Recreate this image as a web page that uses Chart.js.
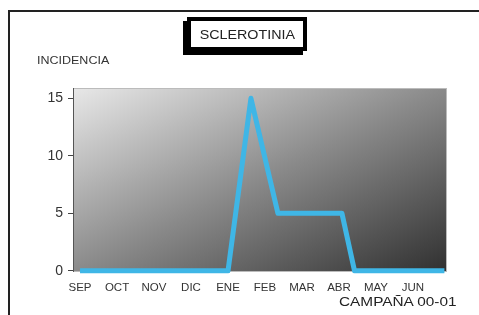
<!DOCTYPE html>
<html>
<head>
<meta charset="utf-8">
<script src="https://cdn.jsdelivr.net/npm/chart.js@4"></script>
<style>
  html, body { margin:0; padding:0; background:#fff; }
  #wrap { position:relative; width:479px; height:315px; overflow:hidden; font-family:"Liberation Sans", Arial, sans-serif; }
  #frame { position:absolute; left:8px; top:10px; width:600px; height:400px; border-left:2px solid #222; border-top:2px solid #222; }
  #title { position:absolute; left:187px; top:17px; width:112px; height:26px; border:4px solid #000; box-shadow:-4px 4px 0 #000; background:#fff;
           color:#222; text-align:center; line-height:26px; }
  #title span { display:inline-block; font-size:13px; transform:scaleX(1.1); }
  #ylab { position:absolute; left:37px; top:55px; font-size:10px; color:#333; transform:scaleX(1.25); transform-origin:0 0; white-space:nowrap; }
  #camp { position:absolute; left:339px; top:295px; font-size:12px; color:#222; transform:scaleX(1.28); transform-origin:0 0; white-space:nowrap; }
  canvas { position:absolute; left:0; top:0; }
</style>
</head>
<body>
<div id="wrap">
  <div id="frame"></div>
  <canvas id="c" width="479" height="315"></canvas>
  <div id="title"><span>SCLEROTINIA</span></div>
  <div id="ylab">INCIDENCIA</div>
  <div id="camp">CAMPAÑA 00-01</div>
</div>
<script>
// Month categories (x position = month index, SEP = 0)
const months = ["SEP","OCT","NOV","DIC","ENE","FEB","MAR","ABR","MAY","JUN"];
// Series: position in months since start of SEP, incidence value
const monthPos  = [0, 4.0, 4.62, 5.35, 7.08, 7.42, 9.85];
const incidence = [0, 0,   15,   5,    5,    0,    0];
const yTicks = [0, 5, 10, 15];

const points = monthPos.map((x, i) => ({ x: x, y: incidence[i] }));

const bgPlugin = {
  id: 'bg',
  beforeDatasetsDraw(chart) {
    const { ctx, chartArea: a } = chart;
    const w = a.right - a.left, h = a.bottom - a.top;
    ctx.save();
    ctx.translate(a.left, a.top);
    ctx.scale(w, h);
    const g = ctx.createLinearGradient(0, 0, 1, 1);
    g.addColorStop(0, '#e8e8e8');
    g.addColorStop(0.5, '#8a8a8a');
    g.addColorStop(1, '#303030');
    ctx.fillStyle = g;
    ctx.fillRect(0, 0, 1, 1);
    ctx.restore();
    ctx.save();
    ctx.strokeStyle = '#bbb';
    ctx.lineWidth = 1;
    ctx.strokeRect(a.left + 0.5, a.top + 0.5, w - 1, h - 1);
    ctx.strokeStyle = '#555';
    ctx.beginPath();
    ctx.moveTo(a.left + 0.5, a.top);
    ctx.lineTo(a.left + 0.5, a.bottom);
    ctx.stroke();
    ctx.restore();
  }
};

new Chart(document.getElementById('c'), {
  type: 'line',
  data: {
    datasets: [{
      data: points,
      borderColor: '#3fb6e6',
      borderWidth: 5,
      pointRadius: 0,
      tension: 0,
      fill: false,
      clip: false,
      borderJoinStyle: 'round',
      borderCapStyle: 'butt'
    }]
  },
  options: {
    responsive: false,
    animation: false,
    events: [],
    layout: { padding: { left: 0, top: 88, right: 32, bottom: 0 } },
    plugins: { legend: { display: false }, tooltip: { enabled: false }, title: { display: false } },
    scales: {
      x: {
        type: 'linear',
        min: -0.19,
        max: 9.92,
        border: { display: false },
        grid: { display: false, drawTicks: false },
        afterBuildTicks(s) { s.ticks = months.map((m, i) => ({ value: i })); },
        afterFit(s) { s.height = 43; },
        ticks: {
          autoSkip: false,
          maxRotation: 0,
          padding: 9,
          color: '#333',
          font: { family: 'Liberation Sans', size: 11.5 },
          callback: (v) => months[v] ?? ''
        }
      },
      y: {
        type: 'linear',
        min: -0.1,
        max: 15.9,
        border: { display: false },
        grid: { drawOnChartArea: false, drawTicks: true, tickLength: 5, color: '#444' },
        afterBuildTicks(s) { s.ticks = yTicks.map(v => ({ value: v })); },
        afterFit(s) { s.width = 73; },
        ticks: {
          padding: 5,
          color: '#333',
          font: { family: 'Liberation Sans', size: 14 },
          callback: (v) => String(v)
        }
      }
    }
  },
  plugins: [bgPlugin]
});
</script>
</body>
</html>
